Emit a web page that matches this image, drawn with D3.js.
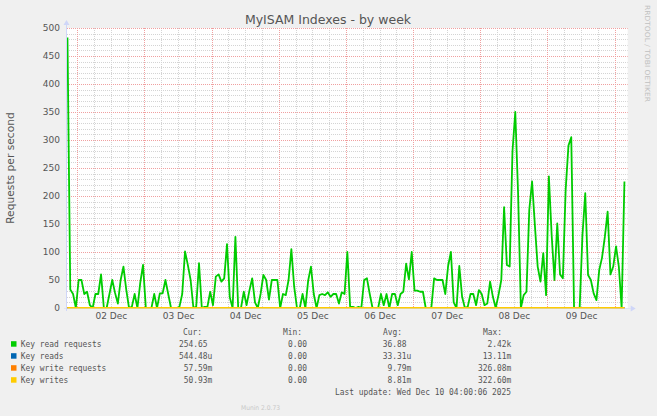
<!DOCTYPE html>
<html><head><meta charset="utf-8">
<script src="https://cdn.jsdelivr.net/npm/d3@7"></script>
<style>
html,body{margin:0;padding:0;background:#f0f0f0;}
svg{display:block;}
text{font-family:"DejaVu Sans",sans-serif;}
.mono{font-family:"DejaVu Sans Mono",monospace;white-space:pre;}
</style></head>
<body>
<script>
// ---- data ----
const title = "MyISAM Indexes - by week";
const yLabel = "Requests per second";
const yTicks = [0,50,100,150,200,250,300,350,400,450,500];
const dayLabels = ["02 Dec","03 Dec","04 Dec","05 Dec","06 Dec","07 Dec","08 Dec","09 Dec"];
// hourly samples of Key read requests starting 2025-12-01 20:30 UTC
const seriesStart = "2025-12-01T20:30:00Z";
const keyReadRequests = [
483,33,25,0,50,50,25,29,5,0,25,25,60,0,0,25,50,27,8,50,
74,33,0,2,25,0,45,77,0,0,0,25,0,26,26,50,25,0,0,0,
2,25,101,77,50,0,2,80,0,2,2,29,5,56,60,47,53,114,19,0,
127,0,0,29,5,31,53,10,0,25,59,50,15,50,50,50,0,25,23,50,
105,38,0,0,25,0,49,74,25,0,23,25,23,28,20,25,25,8,28,25,
100,2,2,0,2,0,50,53,25,0,0,0,25,5,25,0,25,25,5,25,
29,79,51,100,31,31,29,29,0,0,0,53,50,50,50,25,75,100,10,0,
75,20,0,2,25,25,5,32,25,5,8,47,20,0,23,50,180,77,74,280,
350,205,0,23,29,175,226,148,74,47,98,23,235,130,50,151,60,53,211,290,
305,0,0,0,130,205,59,50,26,14,68,90,127,172,60,74,110,74,0,226
];
// small series sampled every 12 hours from the same start (values are tiny)
const keyReads          = [0.0001,0,0,0.0002,0,0.0001,0,0,0.0003,0,0,0.0001,0,0.0002,0,0,0.0005,0.0005];
const keyWriteRequests  = [0.01,0.005,0.01,0.02,0.005,0.01,0.01,0.005,0.02,0.01,0.005,0.01,0.01,0.02,0.005,0.01,0.03,0.06];
const keyWrites         = [0.01,0.005,0.01,0.02,0.005,0.01,0.01,0.005,0.02,0.01,0.005,0.01,0.01,0.02,0.005,0.01,0.03,0.05];
const seriesNames  = ["Key read requests","Key reads","Key write requests","Key writes"];
const seriesColors = ["#00cc00","#0066b3","#ff8000","#ffcc00"];
const curVals = ["254.65","544.48u"," 57.59m"," 50.93m"];
const minVals = ["  0.00","  0.00","  0.00","  0.00"];
const avgVals = [" 36.88"," 33.31u","  9.79m","  8.81m"];
const maxVals = ["  2.42k"," 13.11m","326.08m","322.60m"];
const lastUpdate = "Last update: Wed Dec 10 04:00:06 2025";
const footer = "Munin 2.0.73";
const sideText = "RRDTOOL / TOBI OETIKER";

// ---- layout ----
const W=657,H=416;
const L=67,R=627.7,T=28,B=308;
const svg=d3.select("body").append("svg").attr("width",W).attr("height",H);
svg.append("rect").attr("width",W).attr("height",H).attr("fill","#f0f0f0");

const t0=new Date("2025-12-01T20:20:00Z"), t1=new Date("2025-12-10T04:40:00Z");
const x=d3.scaleUtc().domain([t0,t1]).range([L,R]);
const y=d3.scaleLinear().domain([0,500]).range([B,T]);

svg.append("rect").attr("x",L).attr("y",T).attr("width",R-L).attr("height",B-T).attr("fill","#fff");

const g=svg.append("g");
// minor grid
const minorY=d3.range(0,501,10).filter(v=>v%50!==0);
g.selectAll(".my").data(minorY).enter().append("line")
 .attr("x1",L).attr("x2",R).attr("y1",d=>Math.round(y(d))+0.5).attr("y2",d=>Math.round(y(d))+0.5)
 .attr("stroke","#d4d4d4").attr("stroke-dasharray","1,1");
const minorX=d3.utcHour.every(6).range(t0,t1).filter(d=>d.getUTCHours()!==0);
g.selectAll(".mx").data(minorX).enter().append("line")
 .attr("y1",T).attr("y2",B).attr("x1",d=>Math.round(x(d))+0.5).attr("x2",d=>Math.round(x(d))+0.5)
 .attr("stroke","#d4d4d4").attr("stroke-dasharray","1,1");
// major grid
g.selectAll(".My").data(yTicks.filter(v=>v>0)).enter().append("line")
 .attr("x1",L).attr("x2",R).attr("y1",d=>Math.round(y(d))+0.5).attr("y2",d=>Math.round(y(d))+0.5)
 .attr("stroke","#f0a0a0").attr("stroke-dasharray","1,1");
const majorX=d3.utcDay.range(t0,t1);
g.selectAll(".Mx").data(majorX).enter().append("line")
 .attr("y1",T).attr("y2",B).attr("x1",d=>Math.round(x(d))+0.5).attr("x2",d=>Math.round(x(d))+0.5)
 .attr("stroke","#f0a0a0").attr("stroke-dasharray","1,1");

// y tick labels
const yAxis=d3.axisLeft(y).tickValues(yTicks).tickSize(0).tickPadding(0);
const ya=svg.append("g").attr("transform",`translate(60,0)`).call(yAxis);
ya.select(".domain").remove();
ya.selectAll("text").attr("font-size","9px").attr("fill","#555").attr("font-family","DejaVu Sans");

// x labels at noon
const noon=majorX.map(d=>d3.utcHour.offset(d,12));
const xAxis=d3.axisBottom(x).tickValues(noon).tickFormat((d,i)=>dayLabels[i]).tickSize(0).tickPadding(0);
const xa=svg.append("g").attr("transform",`translate(0,${B+5})`).call(xAxis);
xa.select(".domain").remove();
xa.selectAll("text").attr("font-size","9px").attr("fill","#555").attr("font-family","DejaVu Sans");

// series
const start=new Date(seriesStart);
const hourly=keyReadRequests.map((v,i)=>({t:d3.utcHour.offset(start,i),v}));
const coarse=arr=>arr.map((v,i)=>({t:d3.utcHour.offset(start,Math.min(i*12,199)),v}));
const line=d3.line().x(d=>x(d.t)).y(d=>y(d.v));
const all=[hourly,coarse(keyReads),coarse(keyWriteRequests),coarse(keyWrites)];
all.forEach((s,i)=>{
  svg.append("path").datum(s).attr("d",line).attr("fill","none")
   .attr("stroke",seriesColors[i]).attr("stroke-width",1.8).attr("stroke-linejoin","round");
});

// axes
svg.append("line").attr("x1",L-0.5).attr("x2",L-0.5).attr("y1",B+3).attr("y2",T-5).attr("stroke","#cfd6f8");
svg.append("line").attr("x1",L-3).attr("x2",R+3).attr("y1",B+0.5).attr("y2",B+0.5).attr("stroke","#cfd6f8").attr("stroke-opacity",0.5);
svg.append("path").attr("d",`M${L-3.5},${T-3} L${L+2.5},${T-3} L${L-0.5},${T-8} Z`).attr("fill","#cfd6f8");
svg.append("path").attr("d",`M${R+3},${B-2.5} L${R+3},${B+3.5} L${R+8},${B+0.5} Z`).attr("fill","#cfd6f8");

// title
svg.append("text").attr("x",328).attr("y",24).attr("text-anchor","middle")
 .attr("font-size","12.5px").attr("fill","#555").text(title);
// y label
svg.append("text").attr("transform","translate(14,168) rotate(-90)").attr("text-anchor","middle")
 .attr("font-size","10.7px").attr("fill","#555").text(yLabel);
// side text
svg.append("text").attr("transform","translate(644.5,5) rotate(90)").attr("text-anchor","start")
 .attr("font-size","7px").attr("fill","#c0c0c0").attr("textLength",97).attr("lengthAdjust","spacingAndGlyphs").text(sideText);

// legend (monospace, 4.76px per character)
const CW=4.76, fs="9px";
function mono(str,xx,yy,anchor){
  return svg.append("text").attr("class","mono").attr("x",xx).attr("y",yy)
    .attr("font-size",fs).attr("fill","#555").attr("text-anchor",anchor||"start")
    .attr("textLength",str.length*CW).attr("lengthAdjust","spacingAndGlyphs").text(str);
}
const hdr=[["Cur:",183],["Min:",283],["Avg:",383],["Max:",483]];
hdr.forEach(([t,xx])=>mono(t,xx,334.7));
seriesNames.forEach((n,i)=>{
  const yy=346.7+12*i;
  svg.append("rect").attr("x",11).attr("y",yy-5.5).attr("width",5.5).attr("height",5.5).attr("fill",seriesColors[i]);
  mono(n,20.7,yy);
  [[curVals,179],[minVals,278.5],[avgVals,378],[maxVals,478]].forEach(([arr,xx])=>mono(arr[i],xx,yy));
});
mono(lastUpdate,511-lastUpdate.length*CW,394.7);
svg.append("text").attr("x",260.5).attr("y",409.5).attr("text-anchor","middle")
 .attr("font-size","6.5px").attr("fill","#c8c8c8").attr("textLength",39).attr("lengthAdjust","spacingAndGlyphs").text(footer);
</script>
</body></html>
